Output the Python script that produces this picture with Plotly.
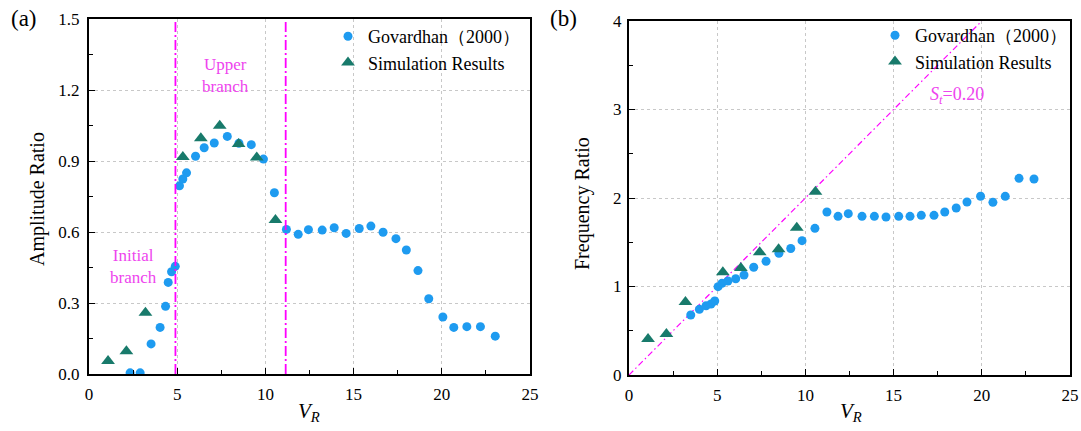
import plotly.graph_objects as go

# ---------------- data ----------------
# (a) amplitude ratio
gov_a_x = [2.33, 2.90, 3.52, 4.03, 4.34, 4.49, 4.68, 4.89, 5.13, 5.32, 5.53, 6.04, 6.53, 7.10,
           7.84, 8.50, 9.20, 9.89, 10.51, 11.19, 11.86, 12.44, 13.22, 13.90, 14.58, 15.32,
           15.98, 16.67, 17.40, 17.99, 18.65, 19.26, 20.06, 20.68, 21.42, 22.19, 23.03]
gov_a_y = [0.005, 0.005, 0.127, 0.197, 0.286, 0.387, 0.432, 0.455, 0.795, 0.824, 0.850, 0.920,
           0.956, 0.976, 1.004, 0.975, 0.969, 0.908, 0.766, 0.611, 0.590, 0.610, 0.608, 0.618,
           0.594, 0.615, 0.625, 0.599, 0.572, 0.524, 0.437, 0.318, 0.241, 0.197, 0.200, 0.200, 0.160]
sim_x = [1.08, 2.12, 3.20, 5.32, 6.34, 7.41, 8.48, 9.51, 10.57]
sim_a_y = [0.055, 0.096, 0.259, 0.917, 0.996, 1.049, 0.972, 0.915, 0.651]

# (b) frequency ratio
gov_f_x = [3.50, 3.99, 4.37, 4.65, 4.86, 5.05, 5.27, 5.61, 6.05, 6.52, 7.07, 7.77, 8.50, 9.17,
           9.81, 10.54, 11.22, 11.85, 12.43, 13.21, 13.91, 14.57, 15.29, 15.93, 16.57, 17.29,
           17.90, 18.55, 19.16, 19.93, 20.63, 21.33, 22.11, 22.96]
gov_f_y = [0.678, 0.742, 0.783, 0.802, 0.836, 0.998, 1.036, 1.062, 1.088, 1.130, 1.217, 1.285,
           1.375, 1.430, 1.518, 1.657, 1.842, 1.793, 1.823, 1.793, 1.793, 1.785, 1.793, 1.793,
           1.804, 1.804, 1.842, 1.887, 1.955, 2.020, 1.951, 2.019, 2.222, 2.215]
sim_f_y = [0.407, 0.463, 0.825, 1.160, 1.209, 1.386, 1.420, 1.665, 2.070]

strouhal = 0.20
st_line_x = [0, 20]
st_line_y = [strouhal * v for v in st_line_x]

branch_bounds = [4.9, 11.15]

# ---------------- style ----------------
BLUE = "#1E9BF0"
TEAL = "#187A6B"
MAG = "#FF00FF"
MAGTXT = "#EE44EE"
FONT = "Liberation Serif"

fig = go.Figure()

fig.add_trace(go.Scatter(x=gov_a_x, y=gov_a_y, mode="markers", name="Govardhan（2000）",
                         marker=dict(color=BLUE, size=9, symbol="circle"),
                         xaxis="x", yaxis="y", legend="legend"))
fig.add_trace(go.Scatter(x=sim_x, y=sim_a_y, mode="markers", name="Simulation Results",
                         marker=dict(color=TEAL, size=12, symbol="triangle-up"),
                         xaxis="x", yaxis="y", legend="legend"))

fig.add_trace(go.Scatter(x=st_line_x, y=st_line_y, mode="lines", showlegend=False,
                         line=dict(color=MAG, width=1.2, dash="6px,3px,1.5px,3px"),
                         xaxis="x2", yaxis="y2"))
fig.add_trace(go.Scatter(x=gov_f_x, y=gov_f_y, mode="markers", name="Govardhan（2000）",
                         marker=dict(color=BLUE, size=9, symbol="circle"),
                         xaxis="x2", yaxis="y2", legend="legend2"))
fig.add_trace(go.Scatter(x=sim_x, y=sim_f_y, mode="markers", name="Simulation Results",
                         marker=dict(color=TEAL, size=12, symbol="triangle-up"),
                         xaxis="x2", yaxis="y2", legend="legend2"))

W, H = 1081, 431
def px_x(p):
    return p / W
def px_y(p):
    return 1 - p / H

axis_common = dict(
    showline=True, linecolor="black", linewidth=2, mirror=True,
    ticks="inside", ticklen=6, tickwidth=1.3, tickcolor="black",
    showgrid=True, gridcolor="#C8C8C8", griddash="dot", gridwidth=1,
    zeroline=False, automargin=False,
    tickfont=dict(family=FONT, size=17, color="black"),
)
minor_x = dict(ticks="inside", ticklen=4, tickwidth=1.2, tickcolor="black", dtick=2.5, showgrid=False)

legend_common = dict(xanchor="left", yanchor="top", bgcolor="rgba(0,0,0,0)",
                     font=dict(family=FONT, size=18, color="black"),
                     tracegroupgap=0, itemwidth=30)

fig.update_layout(
    template="none",
    width=W, height=H,
    margin=dict(l=0, r=0, t=0, b=0, pad=0, autoexpand=False),
    paper_bgcolor="white", plot_bgcolor="white",
    font=dict(family=FONT, color="black"),
    xaxis=dict(domain=[px_x(89), px_x(530)], range=[0, 25], dtick=5, anchor="y",
               ticklabelstandoff=4, minor=minor_x, **axis_common),
    yaxis=dict(domain=[px_y(374), px_y(19)], range=[0, 1.5], dtick=0.3, tickformat=".1f",
               anchor="x", ticklabelstandoff=4,
               minor=dict(ticks="inside", ticklen=4, tickwidth=1.2, tickcolor="black", dtick=0.15, showgrid=False),
               **axis_common),
    xaxis2=dict(domain=[px_x(629), px_x(1070)], range=[0, 25], dtick=5, anchor="y2",
                ticklabelstandoff=4, minor=minor_x, **axis_common),
    yaxis2=dict(domain=[px_y(375), px_y(21)], range=[0, 4], dtick=1, anchor="x2",
                ticklabelstandoff=2,
                minor=dict(ticks="inside", ticklen=4, tickwidth=1.2, tickcolor="black", dtick=0.5, showgrid=False),
                **axis_common),
    legend=dict(x=px_x(328), y=px_y(18), **legend_common),
    legend2=dict(x=px_x(875), y=px_y(17), **legend_common),
)

for b in branch_bounds:
    fig.add_shape(type="line", xref="x", yref="y domain", x0=b, x1=b, y0=0, y1=1,
                  line=dict(color=MAG, width=1.8, dash="10px,3px,2px,3px"))

ann = [
    dict(text="(a)", x=px_x(24), y=px_y(19), xref="paper", yref="paper", font=dict(size=23)),
    dict(text="(b)", x=px_x(563), y=px_y(19), xref="paper", yref="paper", font=dict(size=23)),
    dict(text="Amplitude Ratio", x=px_x(37), y=px_y(199), xref="paper", yref="paper",
         textangle=-90, font=dict(size=20)),
    dict(text="Frequency Ratio", x=px_x(583), y=px_y(204), xref="paper", yref="paper",
         textangle=-90, font=dict(size=20)),
    dict(text="<i>V</i><sub><i>R</i></sub>", x=px_x(309), y=px_y(412), xref="paper", yref="paper",
         font=dict(size=21)),
    dict(text="<i>V</i><sub><i>R</i></sub>", x=px_x(851), y=px_y(412), xref="paper", yref="paper",
         font=dict(size=21)),
    dict(text="Upper<br>branch", x=7.73, y=1.263, xref="x", yref="y",
         font=dict(size=17, color=MAGTXT)),
    dict(text="Initial<br>branch", x=2.5, y=0.456, xref="x", yref="y",
         font=dict(size=17, color=MAGTXT)),
    dict(text="<i>S</i><sub><i>t</i></sub>=0.20", x=16.95, y=3.16, xref="x2", yref="y2",
         xanchor="left", font=dict(size=18, color=MAGTXT)),
]
for a in ann:
    a.setdefault("showarrow", False)
    a.setdefault("xanchor", "center")
    a.setdefault("yanchor", "middle")
    a["font"].setdefault("family", FONT)
    a["font"].setdefault("color", "black")
    fig.add_annotation(**a)

fig.write_html("out.html")
